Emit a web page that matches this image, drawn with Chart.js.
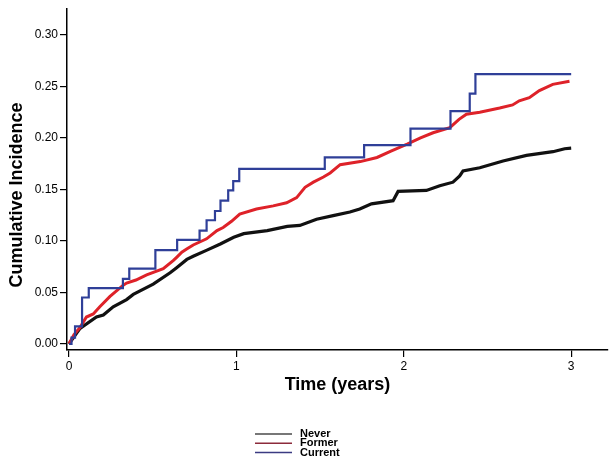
<!DOCTYPE html>
<html lang="en">

<head>
    <meta charset="UTF-8">
    <title>Cumulative Incidence</title>
    <script src="https://cdn.jsdelivr.net/npm/chart.js"></script>
    <style>
        body {
            margin: 0;
            background: #fff;
        }

        .wrap {
            position: relative;
            width: 616px;
            height: 466px;
        }
    </style>
</head>

<body>
    <div class="wrap">
        <canvas id="incChart"></canvas>
    </div>

    <script>
        // series names (legend order)
        const seriesNames = ["Never", "Former", "Current"];

        // Never: step curve, few events
        const neverTimes = [0, 0.015, 0.036, 0.078, 0.118, 0.322, 0.36, 0.516, 0.646, 0.78, 0.822, 0.872, 0.905, 0.951, 0.981, 1.017, 1.528, 1.763, 2.04, 2.279, 2.394, 2.428, 3.0];
        const neverValues = [0, 0.006, 0.017, 0.045, 0.054, 0.063, 0.073, 0.091, 0.101, 0.11, 0.12, 0.129, 0.139, 0.149, 0.158, 0.17, 0.181, 0.193, 0.209, 0.226, 0.243, 0.262, 0.262];

        // Former
        const formerTimes = [0, 0.03, 0.066, 0.104, 0.145, 0.184, 0.245, 0.324, 0.344, 0.40, 0.464, 0.563, 0.624, 0.643, 0.674, 0.703, 0.742, 0.822, 0.884, 0.921, 0.971, 1.02, 1.12, 1.22, 1.30, 1.36, 1.41, 1.46, 1.52, 1.56, 1.62, 1.74, 1.84, 1.92, 2.02, 2.10, 2.175, 2.275, 2.33, 2.374, 2.454, 2.573, 2.65, 2.69, 2.75, 2.81, 2.89, 2.99];
        const formerValues = [0, 0.009, 0.016, 0.026, 0.029, 0.036, 0.046, 0.057, 0.059, 0.062, 0.067, 0.073, 0.081, 0.084, 0.089, 0.092, 0.096, 0.102, 0.110, 0.113, 0.119, 0.126, 0.131, 0.134, 0.137, 0.142, 0.152, 0.157, 0.162, 0.166, 0.174, 0.177, 0.181, 0.187, 0.194, 0.200, 0.205, 0.210, 0.218, 0.223, 0.225, 0.229, 0.232, 0.236, 0.239, 0.246, 0.252, 0.255];

        // Current
        const currentTimes = [0, 0.066, 0.164, 0.205, 0.264, 0.344, 0.384, 0.503, 0.604, 0.643, 0.704, 0.742, 0.824, 0.904, 0.984, 1.044, 1.184, 1.304, 1.379, 1.479, 1.578, 1.678, 1.737, 1.807, 1.936, 1.966, 2.135, 2.215, 2.294, 2.334, 2.354, 2.454, 2.593, 2.733, 2.891, 2.961, 3.0];
        const currentValues = [0, 0.015, 0.026, 0.028, 0.036, 0.043, 0.048, 0.058, 0.069, 0.074, 0.082, 0.085, 0.091, 0.097, 0.1035, 0.107, 0.110, 0.114, 0.115, 0.121, 0.1245, 0.128, 0.131, 0.136, 0.139, 0.148, 0.149, 0.1535, 0.157, 0.163, 0.168, 0.171, 0.1776, 0.183, 0.1866, 0.1895, 0.19];

        // axis ticks
        const xTicks = [0, 1, 2, 3];
        const yTicks = [0, 0.05, 0.10, 0.15, 0.20, 0.25, 0.30];

        const xTitle = "Time (years)";
        const yTitle = "Cumulative Incidence";

        const lineColors = ["#2f3f98", "#de2229", "#111111"];
        const legendColors = ["#4a4a4a", "#8c2b3b", "#3b3b82"];

        function toPoints(ts, vs) {
            return ts.map((t, i) => ({ x: t, y: vs[i] }));
        }

        const fontFamily = '"Liberation Sans", Arial, sans-serif';

        // y title and legend drawn by hand (legend stacked under the axis)
        const extras = {
            id: 'extras',
            afterDraw(chart) {
                const ctx = chart.ctx;
                ctx.save();
                ctx.fillStyle = '#000';
                ctx.font = 'bold 18px ' + fontFamily;
                ctx.textAlign = 'center';
                ctx.textBaseline = 'middle';
                ctx.translate(17, 195);
                ctx.rotate(-Math.PI / 2);
                ctx.fillText(yTitle, 0, 0);
                ctx.restore();

                ctx.save();
                ctx.font = 'bold 11px ' + fontFamily;
                ctx.textBaseline = 'middle';
                ctx.textAlign = 'left';
                seriesNames.forEach((name, i) => {
                    const y = 434 + i * 9.3;
                    ctx.strokeStyle = legendColors[i];
                    ctx.lineWidth = 1.5;
                    ctx.beginPath();
                    ctx.moveTo(255, y);
                    ctx.lineTo(292, y);
                    ctx.stroke();
                    ctx.fillStyle = '#000';
                    ctx.fillText(name, 300, y);
                });
                ctx.restore();
            }
        };

        const ctx = document.getElementById('incChart').getContext('2d');
        const incChart = new Chart(ctx, {
            type: 'line',
            data: {
                datasets: [{
                    label: seriesNames[0],
                    data: toPoints(neverTimes, neverValues),
                    borderColor: lineColors[0],
                    borderWidth: 2.2,
                    stepped: 'before',
                    pointRadius: 0
                }, {
                    label: seriesNames[1],
                    data: toPoints(formerTimes, formerValues),
                    borderColor: lineColors[1],
                    borderWidth: 3,
                    pointRadius: 0
                }, {
                    label: seriesNames[2],
                    data: toPoints(currentTimes, currentValues),
                    borderColor: lineColors[2],
                    borderWidth: 3.2,
                    pointRadius: 0
                }]
            },
            options: {
                responsive: true,
                maintainAspectRatio: false,
                animation: false,
                layout: {
                    padding: { left: 0, right: 8, top: 7, bottom: 66 }
                },
                plugins: {
                    legend: { display: false },
                    tooltip: { enabled: false }
                },
                scales: {
                    x: {
                        type: 'linear',
                        min: -0.012,
                        max: 3.22,
                        afterBuildTicks: (scale) => { scale.ticks = xTicks.map(v => ({ value: v })); },
                        afterFit: (scale) => { scale.height = 50; },
                        ticks: {
                            color: '#000',
                            font: { family: fontFamily, size: 12 },
                            padding: 2,
                            maxRotation: 0,
                            callback: (v) => String(v)
                        },
                        grid: { drawOnChartArea: false, tickLength: 7, color: '#000', lineWidth: 1.2 },
                        border: { color: '#000', width: 1.5 },
                        title: {
                            display: true,
                            text: xTitle,
                            color: '#000',
                            font: { family: fontFamily, size: 18, weight: 'bold' },
                            padding: { top: 0, bottom: 4 }
                        }
                    },
                    y: {
                        min: -0.006,
                        max: 0.325,
                        afterBuildTicks: (scale) => { scale.ticks = yTicks.map(v => ({ value: v })); },
                        afterFit: (scale) => { scale.width = 67; },
                        ticks: {
                            color: '#000',
                            font: { family: fontFamily, size: 12 },
                            padding: 2,
                            callback: (v) => Number(v).toFixed(2)
                        },
                        grid: { drawOnChartArea: false, tickLength: 7, color: '#000', lineWidth: 1.2 },
                        border: { color: '#000', width: 1.5 }
                    }
                }
            },
            plugins: [extras]
        });
    </script>
</body>

</html>
